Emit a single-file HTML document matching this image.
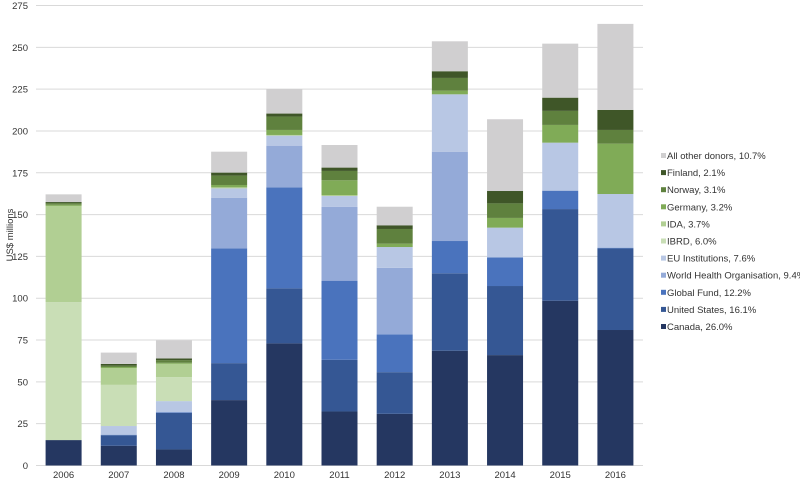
<!DOCTYPE html>
<html><head><meta charset="utf-8"><style>
body{margin:0;background:#fff;font-family:"Liberation Sans",sans-serif}
svg text{font-family:"Liberation Sans",sans-serif;fill:#333}
</style></head><body>
<svg id="c" width="800" height="481"></svg>
<script>
const years=["2006","2007","2008","2009","2010","2011","2012","2013","2014","2015","2016"];
const seriesNames=["Canada, 26.0%","United States, 16.1%","Global Fund, 12.2%","World Health Organisation, 9.4%","EU Institutions, 7.6%","IBRD, 6.0%","IDA, 3.7%","Germany, 3.2%","Norway, 3.1%","Finland, 2.1%","All other donors, 10.7%"];
const canada=[15.2,11.8,9.6,39.1,73,32.3,30.9,68.6,66,98.5,81];
const unitedStates=[0,6.3,21.9,22.1,32.9,30.9,24.9,46.3,41.3,54.8,48.8];
const globalFund=[0,0.3,0.4,68.6,60.4,47.3,22.6,19.3,17.1,11,0.4];
const who=[0,0,0,30.3,24.9,44.2,39.8,53.4,0,0,0];
const euInst=[0,5.2,6.6,5.6,6,6.4,12.4,34.3,17.8,28.7,32.1];
const ibrd=[82.5,24.6,14.3,0,0,0,0,0,0,0,0];
const ida=[57.5,10.1,8,0.6,0.4,0.6,0,0,0,0,0];
const germany=[0.7,0.6,0.6,1.4,3,8.8,2,2.2,5.8,10.6,30.1];
const norway=[1.0,0.8,1.6,5.6,8,5.6,8.8,7.6,8.7,8.4,8.2];
const finland=[0.6,1.0,1.0,1.8,1.8,2,2.2,4,7.4,7.9,12];
const other=[4.6,6.8,10.8,12.5,14.7,13.5,11.1,17.9,42.9,32.3,51.4];
const yTicks=[0,25,50,75,100,125,150,175,200,225,250,275];
const series=[canada,unitedStates,globalFund,who,euInst,ibrd,ida,germany,norway,finland,other];
const colors=["#253761","#355794","#4a73bd","#94aad8","#b8c7e4","#c9deb6","#b1cf93","#80ab57","#5f813e","#3f5628","#d0cfd0"];
const svg=document.getElementById('c');const NS="http://www.w3.org/2000/svg";
const x0=36,x1=643,y0=465.5,y1=5.5,ymax=275;
const y=v=>y0-(v/ymax)*(y0-y1);
const band=(x1-x0)/years.length, bw=36;
const xc=i=>x0+band*(i+0.5);
function mk(t,a,p){const e=document.createElementNS(NS,t);for(const k in a)e.setAttribute(k,a[k]);(p||svg).appendChild(e);return e;}
yTicks.forEach(t=>{
 const g=mk('line',{x1:x0,x2:x1,y1:y(t),y2:y(t),stroke:'#d9d9d9','stroke-width':1});
 
 
 const l=mk('text',{x:28,y:y(t)+3.5,'text-anchor':'end','font-size':'9.5'});l.textContent=t;
 
 
});
const yt=mk('text',{x:13,y:235,'text-anchor':'middle','font-size':'9.5',transform:'rotate(-90 13 235)'});yt.textContent='US$ millions';


years.forEach((yr,i)=>{
 let acc=0;
 series.forEach((s,j)=>{
  const v=s[i]; if(v<=0)return;
  const r=mk('rect',{x:xc(i)-bw/2,y:y(acc+v),width:bw,height:y(acc)-y(acc+v),fill:colors[j]});
  
  
  acc+=v;
 });
 const l=mk('text',{x:xc(i),y:478,'text-anchor':'middle','font-size':'9.5'});l.textContent=yr;
 
 
});
for(let k=0;k<seriesNames.length;k++){
 const idx=seriesNames.length-1-k; const ly=156+k*17.1;
 const g=mk('g',{});
 
 
 mk('rect',{x:661,y:ly-3,width:5,height:5,fill:colors[idx]},g);
 const t=mk('text',{x:667,y:ly+3,'font-size':'9.5'},g);t.textContent=seriesNames[idx];
}
</script>
</body></html>
